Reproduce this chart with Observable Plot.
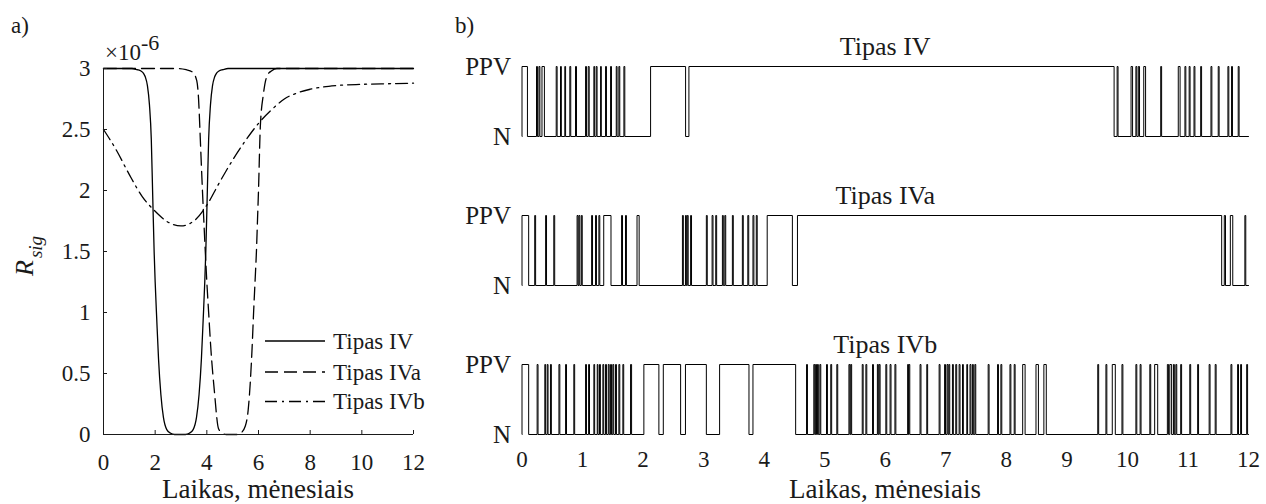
<!DOCTYPE html>
<html>
<head>
<meta charset="utf-8">
<script src="https://cdn.jsdelivr.net/npm/d3@7"></script>
<script src="https://cdn.jsdelivr.net/npm/@observablehq/plot@0.6"></script>
<style>
html, body { margin: 0; padding: 0; background: #fff; }
#fig { position: relative; width: 1266px; height: 504px; font-family: "Liberation Serif", "Times New Roman", serif; }
#fig svg { position: absolute; top: 0; overflow: visible; }
</style>
</head>
<body>
<div id="fig"></div>
<script>
// ---------------- data: panel a) R_sig (x10^-6) vs time, months ----------------
const seriesNames = ["Tipas IV", "Tipas IVa", "Tipas IVb"];

const tIV = [0, 1.1, 1.3, 1.45, 1.55, 1.62, 1.7, 1.78, 1.85, 1.9, 1.96, 2.0, 2.06, 2.13, 2.22, 2.32, 2.45, 2.6, 2.75,
             3.17, 3.32, 3.47, 3.6, 3.7, 3.79, 3.86, 3.92, 3.96, 4.02, 4.07, 4.14, 4.22, 4.3, 4.37, 4.47, 4.62, 4.82, 12];
const rIV = [3.0, 3.0, 2.99, 2.98, 2.96, 2.93, 2.86, 2.7, 2.42, 2.0, 1.5, 1.25, 0.95, 0.62, 0.33, 0.14, 0.04, 0.01, 0,
             0, 0.01, 0.04, 0.14, 0.33, 0.62, 0.95, 1.25, 1.5, 2.0, 2.42, 2.7, 2.86, 2.93, 2.96, 2.98, 2.99, 3.0, 3.0];

const tIVa = [0, 2.9, 3.2, 3.45, 3.61, 3.68, 3.74, 3.79, 3.83, 3.88, 3.94, 4.0, 4.07, 4.16, 4.29, 4.45, 4.6, 4.75,
              5.15, 5.3, 5.49, 5.6, 5.68, 5.75, 5.81, 5.87, 5.92, 5.96, 6.0, 6.07, 6.19, 6.33, 6.5, 6.71, 12];
const rIVa = [3.0, 3.0, 2.99, 2.97, 2.9, 2.75, 2.46, 2.2, 2.0, 1.77, 1.5, 1.25, 1.0, 0.69, 0.36, 0.05, 0.01, 0,
              0, 0.01, 0.07, 0.2, 0.42, 0.7, 1.0, 1.27, 1.5, 1.75, 2.0, 2.52, 2.79, 2.94, 2.98, 3.0, 3.0];

const tIVb = [0, 0.5, 1.0, 1.5, 2.0, 2.5, 3.0, 3.5, 4.0, 4.5, 5.0, 5.5, 6.0, 6.5, 7.0, 7.5, 8.0, 9.0, 10.0, 11.0, 12.0];
const rIVb = [2.5, 2.33, 2.13, 1.95, 1.83, 1.74, 1.71, 1.75, 1.88, 2.07, 2.25, 2.41, 2.55, 2.66, 2.75, 2.8, 2.83, 2.86, 2.87, 2.875, 2.88];

const xTicks = [0, 2, 4, 6, 8, 10, 12];
const yTicks = [0, 0.5, 1, 1.5, 2, 2.5, 3];

// ---------------- data: panel b) PPV periods [start, end] in months ----------------
const ppvIV = [[0, 0.09], [0.24, 0.255], [0.28, 0.295], [0.33, 0.37], [0.565, 0.58], [0.636, 0.65], [0.707, 0.72],
  [0.79, 0.805], [0.884, 0.9], [1.05, 1.065], [1.094, 1.11], [1.187, 1.2], [1.226, 1.24], [1.298, 1.31],
  [1.38, 1.395], [1.463, 1.478], [1.557, 1.57], [1.6, 1.615], [1.683, 1.698], [2.124, 2.702], [2.757, 9.78],
  [9.83, 9.845], [10.06, 10.085], [10.14, 10.155], [10.18, 10.2], [10.27, 10.3], [10.55, 10.565], [10.84, 10.87],
  [10.95, 10.965], [11.02, 11.035], [11.10, 11.115], [11.21, 11.225], [11.38, 11.395], [11.50, 11.515],
  [11.66, 11.675], [11.72, 11.735], [11.83, 11.845]];

const ppvIVa = [[0, 0.11], [0.21, 0.225], [0.39, 0.405], [0.525, 0.54], [0.91, 0.925], [0.94, 0.955], [0.98, 0.995],
  [1.15, 1.165], [1.215, 1.23], [1.27, 1.285], [1.35, 1.47], [1.645, 1.66], [1.71, 1.725], [1.9, 1.935],
  [2.65, 2.665], [2.70, 2.715], [2.73, 2.745], [2.785, 2.8], [3.045, 3.06], [3.14, 3.155], [3.20, 3.215],
  [3.31, 3.325], [3.35, 3.365], [3.475, 3.49], [3.64, 3.655], [3.73, 3.745], [3.815, 3.83], [3.87, 3.885],
  [4.05, 4.466], [4.55, 11.557], [11.60, 11.62], [11.70, 11.74], [11.94, 11.955]];

const ppvIVb = [[0, 0.11], [0.25, 0.265], [0.377, 0.39], [0.417, 0.43], [0.47, 0.485], [0.61, 0.625], [0.72, 0.735],
  [0.856, 0.87], [1.05, 1.065], [1.10, 1.115], [1.187, 1.2], [1.243, 1.255], [1.28, 1.295], [1.336, 1.35],
  [1.38, 1.395], [1.425, 1.44], [1.463, 1.478], [1.50, 1.515], [1.545, 1.56], [1.6, 1.615], [1.666, 1.68],
  [1.793, 1.81], [2.013, 2.261], [2.334, 2.62], [2.70, 3.045], [3.264, 3.749], [3.815, 4.52],
  [4.70, 4.715], [4.82, 4.835], [4.85, 4.865], [4.88, 4.895], [4.92, 4.935], [5.03, 5.045], [5.10, 5.115],
  [5.20, 5.215], [5.40, 5.415], [5.43, 5.445], [5.62, 5.635], [5.68, 5.695], [5.79, 5.805], [5.87, 5.885],
  [5.90, 5.915], [6.01, 6.025], [6.08, 6.095], [6.16, 6.175], [6.37, 6.382], [6.39, 6.405], [6.575, 6.59],
  [6.686, 6.7], [6.89, 6.905], [6.98, 6.995], [7.02, 7.035], [7.05, 7.065], [7.11, 7.125], [7.165, 7.18],
  [7.22, 7.235], [7.276, 7.29], [7.347, 7.36], [7.40, 7.415], [7.44, 7.455], [7.48, 7.495], [7.70, 7.715],
  [7.855, 7.87], [7.91, 7.925], [8.06, 8.075], [8.13, 8.145], [8.27, 8.31], [8.49, 8.53], [8.62, 8.66],
  [9.51, 9.525], [9.645, 9.66], [9.75, 9.80], [9.91, 9.925], [10.14, 10.155], [10.21, 10.225], [10.37, 10.385],
  [10.45, 10.5], [10.66, 10.68], [10.70, 10.73], [10.76, 10.775], [10.80, 10.815], [10.88, 10.895],
  [11.03, 11.045], [11.16, 11.175], [11.35, 11.365], [11.45, 11.465], [11.71, 11.725], [11.82, 11.835],
  [11.87, 11.885], [11.97, 11.985]];

const stateTicks = [0, 1];
const stateLabels = ["N", "PPV"];
const monthTicks = [0, 1, 2, 3, 4, 5, 6, 7, 8, 9, 10, 11, 12];

const xLabel = "Laikas, mėnesiais";
const fontFamily = '"Liberation Serif", "Times New Roman", serif';
const ink = "#1a1a1a";

// ---------------- build tables ----------------
const zip = (t, r) => t.map((v, i) => ({t: v, r: r[i]}));
const curveIV = zip(tIV, rIV), curveIVa = zip(tIVa, rIVa), curveIVb = zip(tIVb, rIVb);
const dashes = ["none", "13,6", "12,5,2,5"];

const stepRows = [];
[ppvIV, ppvIVa, ppvIVb].forEach((iv, k) => {
  const type = seriesNames[k];
  stepRows.push({type, t: 0, s: 0});
  for (const [a, b] of iv) {
    stepRows.push({type, t: a, s: 0}, {type, t: a, s: 1}, {type, t: b, s: 1}, {type, t: b, s: 0});
  }
  stepRows.push({type, t: 12, s: 0});
});

const fig = document.getElementById("fig");

// ---------------- panel a ----------------
const left = Plot.plot({
  width: 440, height: 504,
  marginLeft: 103, marginRight: 27, marginTop: 68, marginBottom: 70,
  style: {fontFamily, fontSize: "23px", color: ink, background: "transparent", overflow: "visible"},
  x: {domain: [0, 12]},
  y: {domain: [0, 3]},
  marks: [
    Plot.line(curveIV, {x: "t", y: "r", stroke: "#000", strokeWidth: 1.3, curve: "monotone-x"}),
    Plot.line(curveIVa, {x: "t", y: "r", stroke: "#000", strokeWidth: 1.3, strokeDasharray: dashes[1], curve: "monotone-x"}),
    Plot.line(curveIVb, {x: "t", y: "r", stroke: "#000", strokeWidth: 1.3, strokeDasharray: dashes[2], curve: "monotone-x"}),
    Plot.ruleX([0], {stroke: ink, strokeWidth: 1}),
    Plot.ruleY([0], {stroke: ink, strokeWidth: 1}),
    Plot.axisX({ticks: xTicks, tickSize: -4, tickPadding: 23, label: null, tickFormat: d => String(d)}),
    Plot.axisY({ticks: yTicks, tickSize: -4, tickPadding: 17, label: null, tickFormat: d => String(d)})
  ]
});
left.style.left = "0px";
fig.appendChild(left);

const ls = d3.select(left);
ls.append("text").attr("x", 11).attr("y", 33).attr("text-anchor", "start").attr("font-size", 23).attr("fill", ink).text("a)");
const mult = ls.append("text").attr("x", 105).attr("y", 60).attr("text-anchor", "start").attr("font-size", 23).attr("fill", ink);
mult.append("tspan").text("×10");
mult.append("tspan").attr("dy", -10).attr("font-size", 22).text("-6");
const yl = ls.append("text").attr("transform", "translate(33,276) rotate(-90)").attr("text-anchor", "start")
  .attr("font-size", 26).attr("font-style", "italic").attr("fill", ink);
yl.append("tspan").text("R");
yl.append("tspan").attr("dy", 9).attr("dx", 2).attr("font-size", 19).text("sig");
ls.append("text").attr("x", 258).attr("y", 498).attr("text-anchor", "middle").attr("font-size", 27)
  .attr("fill", ink).text(xLabel);
const lg = ls.append("g");
seriesNames.forEach((name, i) => {
  const y = [341, 372, 401.5][i];
  lg.append("line").attr("x1", 265).attr("x2", 325).attr("y1", y).attr("y2", y)
    .attr("stroke", "#000").attr("stroke-width", 1.3).attr("stroke-dasharray", dashes[i]);
  lg.append("text").attr("x", 333).attr("y", y).attr("dy", "0.33em").attr("text-anchor", "start")
    .attr("font-size", 23).attr("fill", ink).text(name);
});

// ---------------- panel b ----------------
const right = Plot.plot({
  width: 826, height: 504,
  marginLeft: 81.5, marginRight: 18, marginTop: 65, marginBottom: 69,
  style: {fontFamily, fontSize: "23px", color: ink, background: "transparent", overflow: "visible"},
  x: {domain: [0, 12]},
  y: {domain: [0, 1]},
  fy: {domain: seriesNames, paddingInner: 0.5333, paddingOuter: 0, axis: null},
  marks: [
    Plot.line(stepRows, {x: "t", y: "s", fy: "type", z: "type", stroke: "#000", strokeWidth: 1}),
    Plot.axisY({ticks: stateTicks, tickFormat: d => stateLabels[d], tickSize: 0, tickPadding: 11, fontSize: 25, label: null}),
    Plot.axisX({ticks: monthTicks, tickSize: 0, tickPadding: 16, label: null, tickFormat: d => String(d)}),
    Plot.text(seriesNames, {fy: d => d, text: d => d, frameAnchor: "top", lineAnchor: "middle", dy: -20, fontSize: 26, fill: ink})
  ]
});
right.style.left = "440px";
fig.appendChild(right);

const rs = d3.select(right);
rs.append("text").attr("x", 15).attr("y", 33).attr("text-anchor", "start").attr("font-size", 23).attr("fill", ink).text("b)");
rs.append("text").attr("x", 445).attr("y", 498).attr("text-anchor", "middle").attr("font-size", 27)
  .attr("fill", ink).text(xLabel);
</script>
</body>
</html>
